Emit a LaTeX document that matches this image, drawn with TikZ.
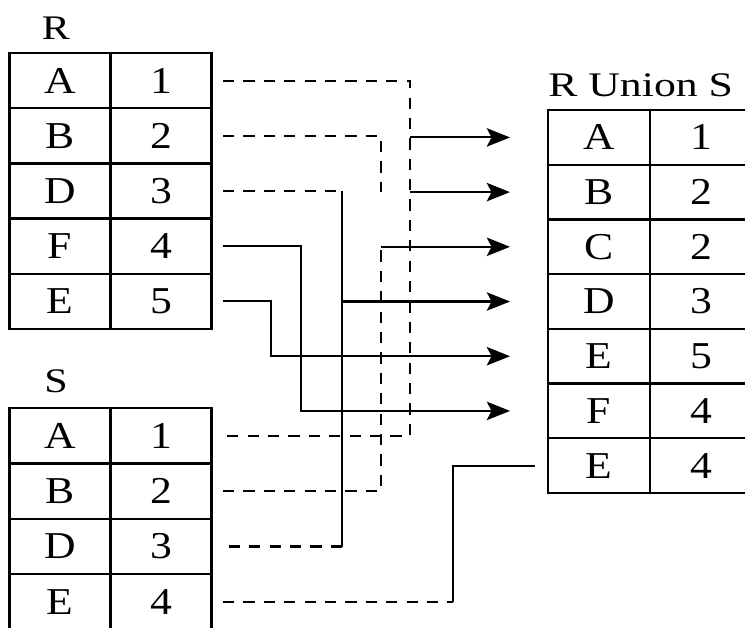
\documentclass[tikz,border=0pt]{standalone}
\usepackage{fontspec}
\setmainfont{Liberation Serif}
\usepackage{tikz}
\usetikzlibrary{arrows.meta,calc}

\newcommand{\wideletters}[2][1.15]{\scalebox{#1}[1]{#2}}

\begin{document}
\begin{tikzpicture}[x=0.025cm,y=-0.025cm,
	cell/.style={draw,line width=1.6pt,minimum width=2.525cm,minimum height=1.38cm,inner sep=0pt,font=\fontsize{27}{32}\selectfont},
	scell/.style={cell,minimum height=1.385cm},
	ucell/.style={cell,minimum width=2.55cm,minimum height=1.3675cm},
	title/.style={inner sep=0pt,font=\fontsize{24.5}{29}\selectfont},
	link/.style={line width=1.5pt},
	dlink/.style={link,dash pattern=on 8pt off 6.5pt},
	arr/.style={link,-{Stealth[length=0.58cm,width=0.46cm,inset=0.12cm]}}]
	\clip (0,0) rectangle (745,627);

	% lanes and ends of the connectors
	\coordinate (outx) at (223,0);
	\coordinate (tipx) at (510,0);
	\coordinate (endx) at (535,0);
	\coordinate (laneA) at (410,0);
	\coordinate (laneB) at (381,0);
	\coordinate (laneD) at (342,0);
	\coordinate (laneF) at (301,0);
	\coordinate (laneE) at (271,0);
	\coordinate (laneS) at (453,0);

	% tables
	\node[title] (rname) at (56,28) {\wideletters[1.22]{R}};
	\foreach \a/\b [count=\k] in {A/1,B/2,D/3,F/4,E/5} {
		\node[cell] (rk\k) at (60,{80.6+55.2*(\k-1)}) {\wideletters{\a}};
		\node[cell] (rv\k) at (161,{80.6+55.2*(\k-1)}) {\wideletters{\b}};
	}

	\node[title] (sname) at (56,381) {\wideletters[1.22]{S}};
	\foreach \a/\b [count=\k] in {A/1,B/2,D/3,E/4} {
		\node[scell] (sk\k) at (60,{435.7+55.4*(\k-1)}) {\wideletters{\a}};
		\node[scell] (sv\k) at (161,{435.7+55.4*(\k-1)}) {\wideletters{\b}};
	}

	\node[title,anchor=west] (uname) at (548,85) {\wideletters[1.27]{R Union S}};
	\foreach \a/\b [count=\k] in {A/1,B/2,C/2,D/3,E/5,F/4,E/4} {
		\node[ucell] (uk\k) at (599,{137.4+54.7*(\k-1)}) {\wideletters{\a}};
		\node[ucell] (uv\k) at (701,{137.4+54.7*(\k-1)}) {\wideletters{\b}};
	}

	% A from R and S
	\draw[dlink] (outx |- rv1.east) -| (laneA |- sv1.east) -- (outx |- sv1.east);
	\draw[arr] (laneA |- uk1.west) -- (tipx |- uk1.west);
	% B
	\draw[dlink] (outx |- rv2.east) -| (laneB |- uk2.west);
	\draw[arr] (laneA |- uk2.west) -- (tipx |- uk2.west);
	\draw[dlink] (outx |- sv2.east) -| (laneB |- uk3.west);
	\draw[arr] (laneB |- uk3.west) -- (tipx |- uk3.west);
	% D
	\draw[dlink] (outx |- rv3.east) -- (laneD |- rv3.east);
	\draw[link] (laneD |- rv3.east) -- (laneD |- sv3.east);
	\draw[dlink] (laneD |- sv3.east) -- (outx |- sv3.east);
	\draw[arr] (laneD |- uk4.west) -- (tipx |- uk4.west);
	% F and E
	\draw[arr] (outx |- rv4.east) -| (laneF |- uk6.west) -- (tipx |- uk6.west);
	\draw[arr] (outx |- rv5.east) -| (laneE |- uk5.west) -- (tipx |- uk5.west);
	\draw[dlink] (outx |- sv4.east) -- (laneS |- sv4.east);
	\draw[link] (laneS |- sv4.east) |- (endx |- uk7.west);
\end{tikzpicture}
\end{document}
